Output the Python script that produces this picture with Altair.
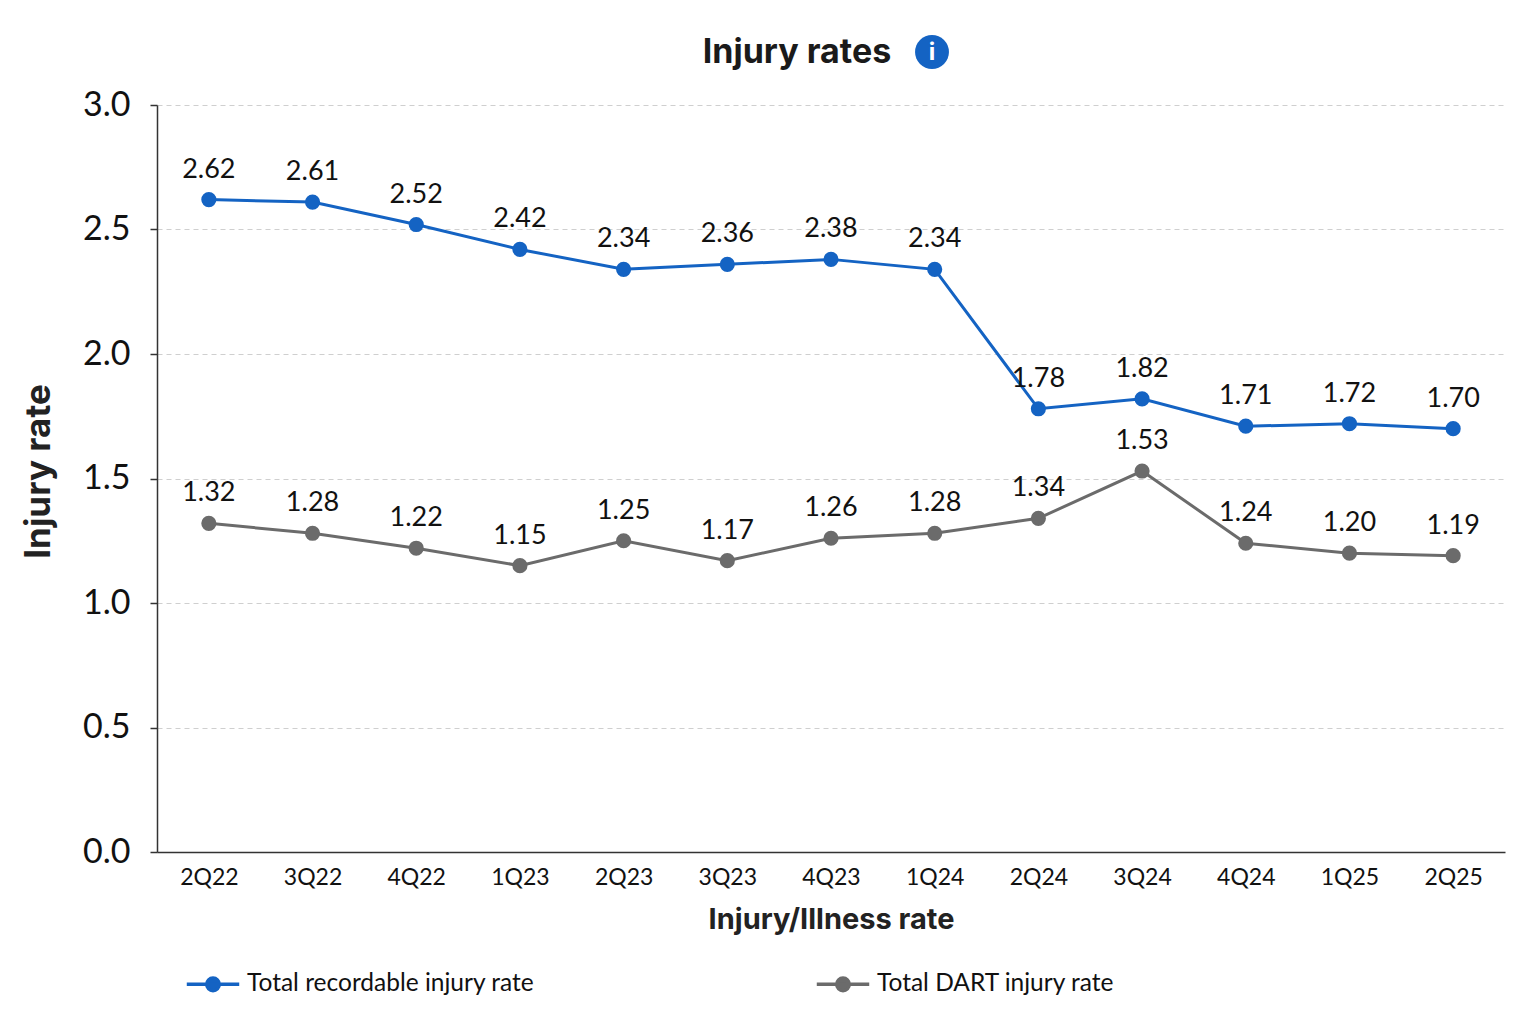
import altair as alt
import pandas as pd

quarters = ["2Q22", "3Q22", "4Q22", "1Q23", "2Q23", "3Q23", "4Q23",
            "1Q24", "2Q24", "3Q24", "4Q24", "1Q25", "2Q25"]
total_recordable = [2.62, 2.61, 2.52, 2.42, 2.34, 2.36, 2.38,
                    2.34, 1.78, 1.82, 1.71, 1.72, 1.70]
total_dart = [1.32, 1.28, 1.22, 1.15, 1.25, 1.17, 1.26,
              1.28, 1.34, 1.53, 1.24, 1.20, 1.19]
series_names = ["Total recordable injury rate", "Total DART injury rate"]
series_colors = ["#1463C3", "#6B6B6B"]
chart_title = "Injury rates"

rows = []
for name, vals in zip(series_names, [total_recordable, total_dart]):
    for q, v in zip(quarters, vals):
        rows.append({"quarter": q, "rate": v, "series": name})
df = pd.DataFrame(rows)

LABEL_FONT = "Lato"
TITLE_FONT = "Inter"

x_enc = alt.X(
    "quarter:N", sort=quarters, title="Injury/Illness rate",
    scale=alt.Scale(type="point", padding=0.5),
    axis=alt.Axis(labelAngle=0, ticks=False, grid=False, labelFontSize=23,
                  labelFont=LABEL_FONT, labelColor="#111", labelPadding=14,
                  titleFont=TITLE_FONT, titleFontSize=29, titleFontWeight="bold",
                  titleColor="#222", titlePadding=16, domainColor="#333",
                  domainWidth=1.5),
)
y_enc = alt.Y(
    "rate:Q", title="Injury rate",
    scale=alt.Scale(domain=[0, 3.0], nice=False),
    axis=alt.Axis(values=[0, 0.5, 1.0, 1.5, 2.0, 2.5, 3.0], format=".1f",
                  labelFontSize=34, labelFont=LABEL_FONT, labelColor="#111",
                  labelPadding=20, tickSize=7, tickColor="#333", tickWidth=1.5,
                  domainColor="#333", domainWidth=1.5,
                  gridColor="#cfcfcf", gridDash=[5, 4], gridWidth=1,
                  titleFont=TITLE_FONT, titleFontSize=35, titleFontWeight="bold",
                  titleColor="#222", titlePadding=26, titleY=366),
)

sym_path = ("M-1,0L1,0M-0.24,0A0.24,0.24,0,1,1,0.24,0"
            "A0.24,0.24,0,1,1,-0.24,0Z")
legend = alt.Legend(
    title=None, orient="none", direction="horizontal", legendX=28, legendY=851,
    symbolType=sym_path, symbolSize=2750, symbolStrokeWidth=3.5,
    labelFont=LABEL_FONT, labelFontSize=24.5, labelColor="#111",
    labelOffset=6, columnPadding=274, labelLimit=400,
)
color_scale = alt.Scale(domain=series_names, range=series_colors)

base = alt.Chart(df)

lines = base.mark_line(strokeWidth=3).encode(
    x=x_enc, y=y_enc,
    stroke=alt.Stroke("series:N", scale=color_scale, sort=series_names, legend=legend),
)
points = base.mark_point(filled=True, size=230, opacity=1).encode(
    x=x_enc, y=y_enc,
    fill=alt.Fill("series:N", scale=color_scale, sort=series_names, legend=legend),
)
labels = base.mark_text(dy=-30, fontSize=27, font=LABEL_FONT, color="#111").encode(
    x=x_enc, y=y_enc, text=alt.Text("rate:Q", format=".2f"),
)

# title and info icon drawn above the plot area
head_df = pd.DataFrame({"title": [chart_title], "glyph": ["i"]})
title_text = alt.Chart(head_df).mark_text(
    font=TITLE_FONT, fontSize=34, fontWeight="bold", color="#1a1a1a",
    baseline="middle", align="center"
).encode(x=alt.value(640), y=alt.value(-52), text="title:N")
icon_circle = alt.Chart(head_df).mark_point(
    filled=True, shape="circle", size=1150, color="#1463C3", opacity=1
).encode(x=alt.value(775), y=alt.value(-53))
icon_text = alt.Chart(head_df).mark_text(
    font=TITLE_FONT, fontSize=24, fontWeight="bold", color="white", baseline="middle"
).encode(x=alt.value(775), y=alt.value(-52), text="glyph:N")

chart = (
    alt.layer(lines, points, labels, title_text, icon_circle, icon_text)
    .properties(
        width=1348, height=747,
        autosize=alt.AutoSizeParams(type="none"),
        padding={"left": 149, "top": 97, "right": 23, "bottom": 160},
        background="white",
    )
    .configure_view(stroke=None)
)

chart.save("out.html", embed_options={"renderer": "svg", "actions": False})
